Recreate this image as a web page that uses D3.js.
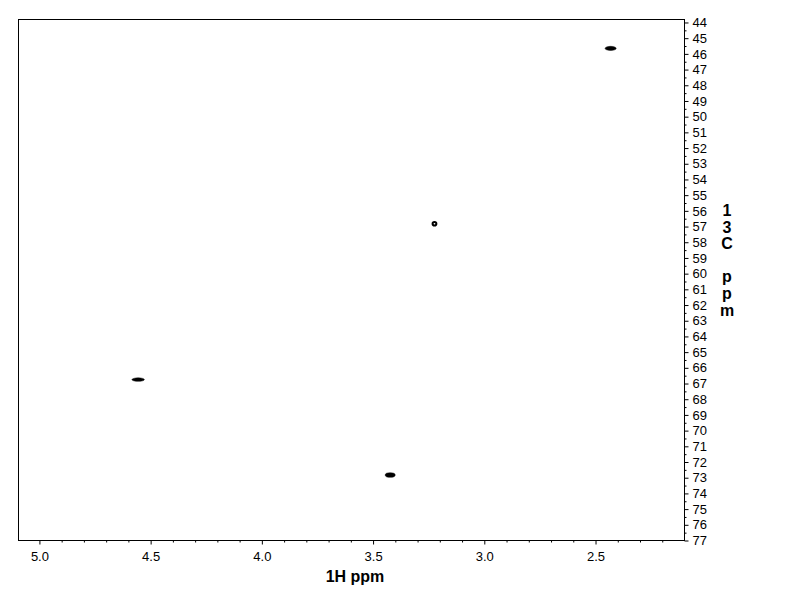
<!DOCTYPE html>
<html>
<head>
<meta charset="utf-8">
<script src="https://cdn.jsdelivr.net/npm/d3@7"></script>
<style>
  body { margin: 0; background: white; }
  svg { display: block; }
  text { font-family: Arial, "Liberation Sans", sans-serif; fill: black; }
</style>
</head>
<body>
<div id="chart-area"></div>
<script>
// cross peaks: 1H shift, 13C shift, linewidths (ppm)
var peakH = [2.432, 3.224, 4.556, 3.423];
var peakC = [45.65, 56.82, 66.75, 72.83];
var peakWidthH = [0.050, 0.026, 0.056, 0.045];
var peakWidthC = [0.26, 0.36, 0.22, 0.29];
var peakHollow = [false, true, false, false];

var hTicks = [5.0, 4.5, 4.0, 3.5, 3.0, 2.5];
var cTicks = d3.range(44, 78, 1);

var svg = d3.select("#chart-area")
  .append("svg")
  .attr("width", 792)
  .attr("height", 612);

var x = d3.scaleLinear()
  .domain([5.094, 2.100])
  .range([18.5, 684.5]);

var y = d3.scaleLinear()
  .domain([43.81, 77])
  .range([19.5, 540.5]);

// frame
svg.append("rect")
  .attr("x", 18.5)
  .attr("y", 19.5)
  .attr("width", 666)
  .attr("height", 521)
  .attr("fill", "none")
  .attr("stroke", "black");

// bottom axis
var xMinor = d3.range(2.2, 5.05, 0.1).map(d => Math.round(d * 10) / 10)
  .filter(d => hTicks.indexOf(d) < 0);

svg.append("g")
  .attr("transform", "translate(0,540.5)")
  .call(d3.axisBottom(x).tickValues(xMinor).tickSize(2).tickFormat(""))
  .call(g => g.select(".domain").remove());

var xAxis = svg.append("g")
  .attr("transform", "translate(0,540.5)")
  .call(d3.axisBottom(x).tickValues(hTicks).tickSize(4).tickPadding(7).tickFormat(d3.format(".1f")));
xAxis.select(".domain").remove();
xAxis.selectAll("text")
  .attr("font-size", "13px")
  .attr("font-family", "Arial, 'Liberation Sans', sans-serif");

// right axis
var cMinor = d3.range(44.5, 77, 1);
svg.append("g")
  .attr("transform", "translate(684.5,0)")
  .call(d3.axisRight(y).tickValues(cMinor).tickSize(2).tickFormat(""))
  .call(g => g.select(".domain").remove());

var yAxis = svg.append("g")
  .attr("transform", "translate(684.5,0)")
  .call(d3.axisRight(y).tickValues(cTicks).tickSize(4).tickPadding(4).tickFormat(d3.format("d")));
yAxis.select(".domain").remove();
yAxis.selectAll("text")
  .attr("font-size", "13px")
  .attr("font-family", "Arial, 'Liberation Sans', sans-serif");

// axis titles
svg.append("text")
  .attr("x", 355)
  .attr("y", 582)
  .attr("text-anchor", "middle")
  .attr("font-size", "16px")
  .attr("font-weight", "bold")
  .text("1H ppm");

var yLabel = svg.append("text")
  .attr("x", 727)
  .attr("y", 216)
  .attr("text-anchor", "middle")
  .attr("font-size", "16px")
  .attr("font-weight", "bold");
["1", "3", "C", "", "p", "p", "m"].forEach((c, i) => {
  yLabel.append("tspan")
    .attr("x", 727)
    .attr("y", 216 + i * 16.6)
    .text(c === "" ? "\u00a0" : c);
});

// peaks
var peaks = peakH.map((h, i) => ({
  h: h, c: peakC[i], wh: peakWidthH[i], wc: peakWidthC[i], hollow: peakHollow[i]
}));

svg.selectAll("ellipse.peak")
  .data(peaks)
  .enter()
  .append("ellipse")
  .attr("class", "peak")
  .attr("cx", d => x(d.h))
  .attr("cy", d => y(d.c))
  .attr("rx", d => Math.abs(x(d.h + d.wh / 2) - x(d.h)) - (d.hollow ? 1 : 0))
  .attr("ry", d => Math.abs(y(d.c + d.wc / 2) - y(d.c)) - (d.hollow ? 1 : 0))
  .attr("fill", d => d.hollow ? "white" : "black")
  .attr("stroke", "black")
  .attr("stroke-width", d => d.hollow ? 2 : 0.5);
</script>
</body>
</html>
